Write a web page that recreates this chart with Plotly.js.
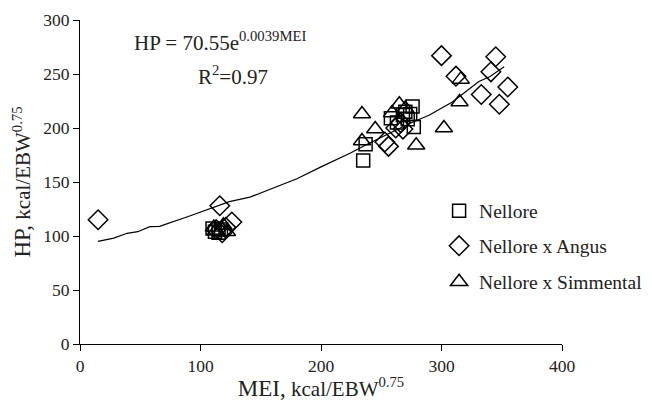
<!DOCTYPE html>
<html>
<head>
<meta charset="utf-8">
<script src="https://cdn.plot.ly/plotly-3.0.1.min.js"></script>
<style>html,body{margin:0;padding:0;background:#fff;}#chart{width:652px;height:401px;}</style>
</head>
<body>
<div id="chart"></div>
<script>
// Nellore (squares)
const nelloreMEI = [110, 112, 115, 117, 235, 237, 258, 263, 268, 272, 274, 276, 277, 270];
const nelloreHP  = [107, 104, 103, 106, 170, 185, 209, 205, 212, 208, 213, 220, 201, 215];
// Nellore x Angus (diamonds)
const angusMEI = [15, 116, 126, 121, 118, 113, 253, 256, 266, 268, 262, 300, 312, 333, 341, 345, 348, 355];
const angusHP  = [115, 128, 113, 108, 103, 106, 187, 183, 205, 199, 200, 267, 248, 231, 252, 266, 222, 238];
// Nellore x Simmental (triangles)
const simMEI = [113, 119, 122, 111, 234, 234, 245, 259, 265, 270, 279, 302, 315, 316];
const simHP  = [105, 110, 104, 108, 213, 188, 199, 214, 222, 218, 184, 200, 224, 245];
// Fitted curve as drawn
const fitMEI = [15, 28, 39, 48, 58, 66, 91, 108, 124, 141, 160, 180, 200, 224, 240, 257, 273, 290, 309, 331, 340, 352];
const fitHP  = [95, 98, 102.5, 104, 108.6, 109, 118.5, 125.6, 131.8, 136, 144, 153, 164, 176.6, 185.8, 195, 204, 212, 224, 243, 247.5, 256.7];

const xTicks = [0, 100, 200, 300, 400];
const yTicks = [0, 50, 100, 150, 200, 250, 300];

const FONT = 'Liberation Serif, Times New Roman, serif';
const TXT = '#222';
const mk = (sym, size) => ({symbol: sym, size: size, color: '#000', line: {color: '#000', width: 1.5}});

const traces = [
  {x: fitMEI, y: fitHP, mode: 'lines', line: {color: '#000', width: 1.2}, showlegend: false, hoverinfo: 'skip'},
  {x: nelloreMEI, y: nelloreHP, mode: 'markers', name: 'Nellore', marker: mk('square-open', 13), legend: 'legend'},
  {x: angusMEI, y: angusHP, mode: 'markers', name: 'Nellore x Angus', marker: mk('diamond-open', 15), legend: 'legend2'},
  {x: simMEI, y: simHP, mode: 'markers', name: 'Nellore x Simmental', marker: mk('triangle-up-open', 15), legend: 'legend3'}
];

const legBase = {x: 0.745, xanchor: 'left', yanchor: 'middle', bgcolor: 'rgba(0,0,0,0)',
  font: {family: FONT, size: 19.5, color: TXT}, itemwidth: 30, tracegroupgap: 0};

const layout = {
  width: 652, height: 401,
  margin: {l: 80, r: 90, t: 20, b: 57, autoexpand: false},
  paper_bgcolor: '#fff', plot_bgcolor: '#fff',
  font: {family: FONT, color: TXT},
  xaxis: {
    range: [0, 400], tickvals: xTicks, ticktext: xTicks.map(String),
    showgrid: false, zeroline: false, showline: true, linecolor: '#000', linewidth: 1,
    ticks: 'outside', ticklen: 6, tickcolor: '#000',
    tickfont: {family: FONT, size: 17.5, color: TXT},
    title: {text: '<span style="font-size:23px">MEI,</span> kcal/EBW<sup>0.75</sup>', font: {family: FONT, size: 21, color: TXT}, standoff: 3}
  },
  yaxis: {
    range: [0, 300], tickvals: yTicks, ticktext: yTicks.map(String),
    showgrid: false, zeroline: false, showline: true, linecolor: '#000', linewidth: 1,
    ticks: 'outside', ticklen: 6, tickcolor: '#000',
    tickfont: {family: FONT, size: 17.5, color: TXT},
    title: {text: '<span style="font-size:23px">HP,</span> kcal/EBW<sup>0.75</sup>', font: {family: FONT, size: 21, color: TXT}, standoff: 6}
  },
  showlegend: true,
  legend: Object.assign({}, legBase, {y: (344 - 211) / 324}),
  legend2: Object.assign({}, legBase, {y: (344 - 246) / 324}),
  legend3: Object.assign({}, legBase, {y: (344 - 282) / 324}),
  annotations: [
    {xref: 'paper', yref: 'paper', x: (220 - 80) / 482, y: (344 - 42) / 324, xanchor: 'center', yanchor: 'middle',
     text: 'HP = 70.55e<sup>0.0039MEI</sup>', showarrow: false, font: {family: FONT, size: 21, color: TXT}},
    {xref: 'paper', yref: 'paper', x: (233 - 80) / 482, y: (344 - 75) / 324, xanchor: 'center', yanchor: 'middle',
     text: 'R<sup>2</sup>=0.97', showarrow: false, font: {family: FONT, size: 21, color: TXT}}
  ]
};

Plotly.newPlot('chart', traces, layout, {staticPlot: true, displayModeBar: false});
</script>
</body>
</html>
